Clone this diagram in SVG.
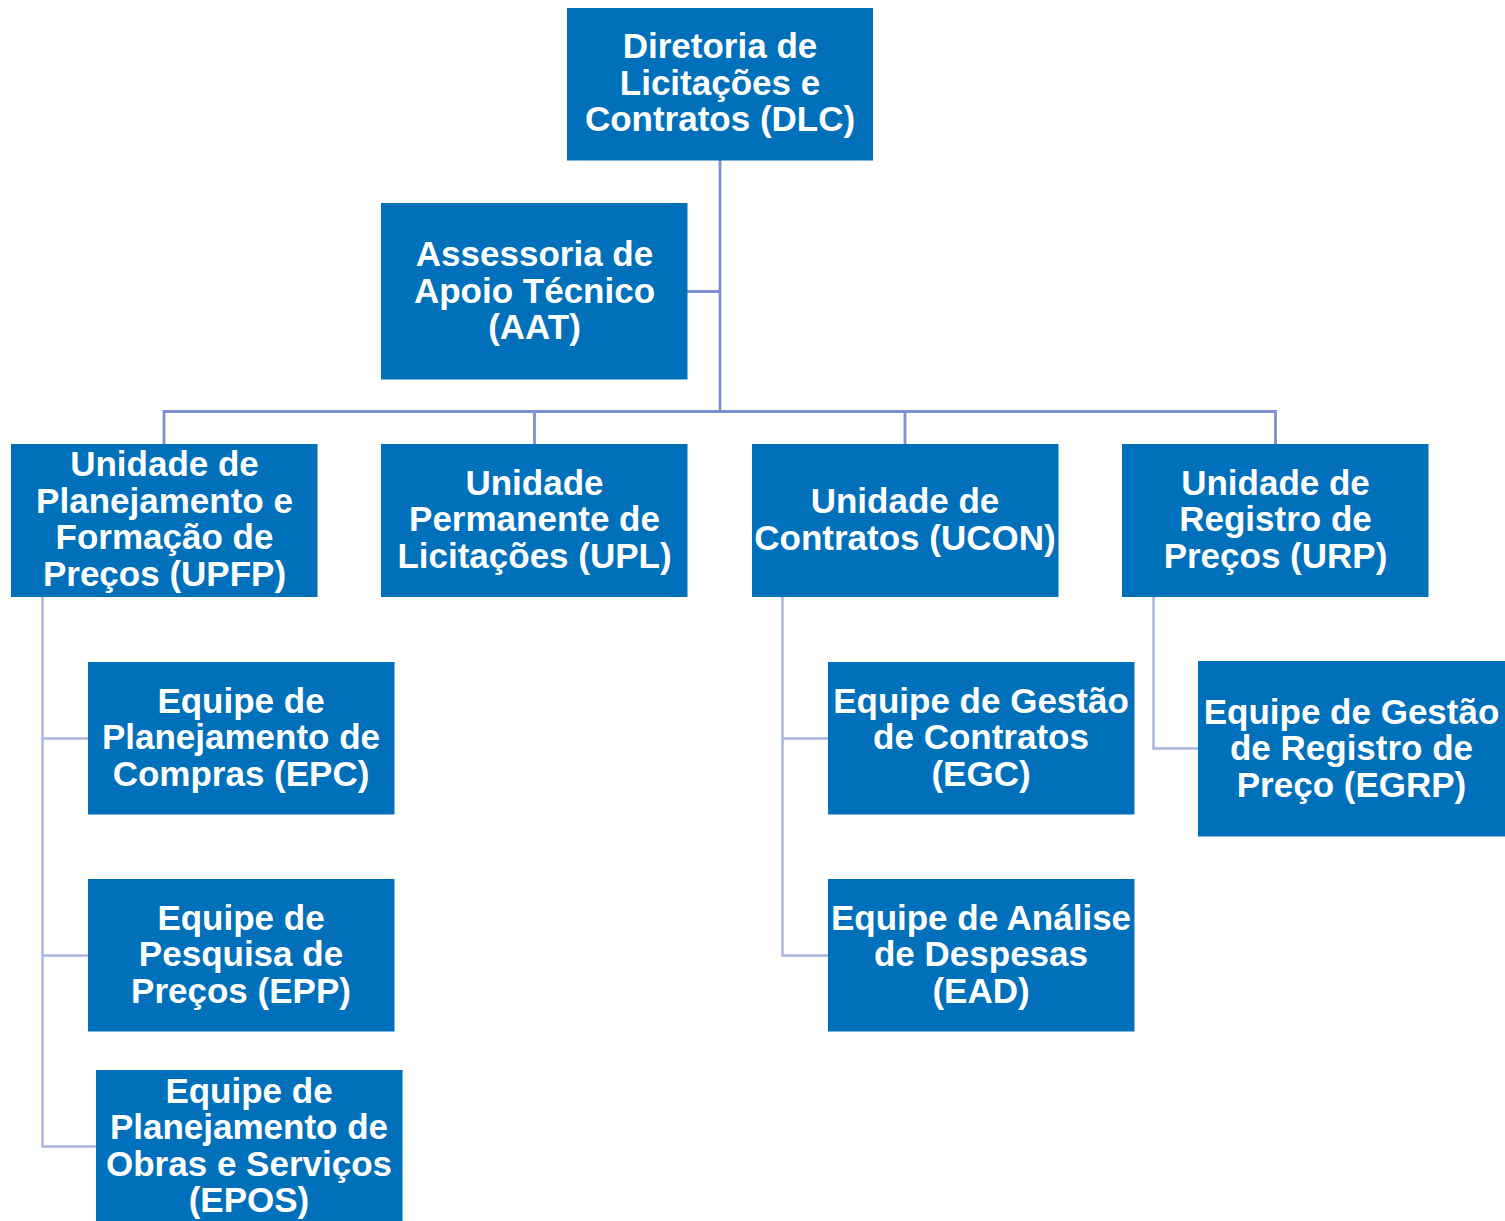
<svg xmlns="http://www.w3.org/2000/svg" width="1505" height="1221" viewBox="0 0 1505 1221">
<style>
.box{fill:#0070bb}
.t{font-family:"Liberation Sans",Arial,sans-serif;font-weight:bold;font-size:35px;fill:#ffffff;text-anchor:middle}
.c1{fill:none;stroke:#7d90d2;stroke-width:2.8}
.c2{fill:none;stroke:#a9b4de;stroke-width:2.4}
</style>
<rect width="1505" height="1221" fill="#ffffff"/>
<g id="connectors">
<path class="c1" d="M720 160V411.5M687 291.5H720M164 444V411.5H1275.5V444M534.5 411.5V444M905 411.5V444"/>
<path class="c2" d="M42.5 597V1146.5H96M42.5 738.5H88M42.5 955.5H88"/>
<path class="c2" d="M782.5 597V955.5H828M782.5 738.5H828"/>
<path class="c2" d="M1153.5 597V748.5H1198"/>
</g>
<g id="dlc"><rect class="box" x="567" y="8" width="306" height="152.5"/>
<text class="t"><tspan x="720" y="58">Diretoria de</tspan><tspan x="720" y="94.5">Licitações e</tspan><tspan x="720" y="131">Contratos (DLC)</tspan></text></g>
<g id="aat"><rect class="box" x="381" y="203" width="306.5" height="176.5"/>
<text class="t"><tspan x="534.5" y="266">Assessoria de</tspan><tspan x="534.5" y="302.5">Apoio Técnico</tspan><tspan x="534.5" y="339">(AAT)</tspan></text></g>
<g id="upfp"><rect class="box" x="11" y="444" width="306.5" height="153"/>
<text class="t"><tspan x="164.5" y="476">Unidade de</tspan><tspan x="164.5" y="512.5">Planejamento e</tspan><tspan x="164.5" y="549">Formação de</tspan><tspan x="164.5" y="585.5">Preços (UPFP)</tspan></text></g>
<g id="upl"><rect class="box" x="381" y="444" width="306.5" height="153"/>
<text class="t"><tspan x="534.5" y="494.5">Unidade</tspan><tspan x="534.5" y="531">Permanente de</tspan><tspan x="534.5" y="567.5">Licitações (UPL)</tspan></text></g>
<g id="ucon"><rect class="box" x="752" y="444" width="306.5" height="153"/>
<text class="t"><tspan x="905" y="513">Unidade de</tspan><tspan x="905" y="549.5">Contratos (UCON)</tspan></text></g>
<g id="urp"><rect class="box" x="1122" y="444" width="306.5" height="153"/>
<text class="t"><tspan x="1275.5" y="494.5">Unidade de</tspan><tspan x="1275.5" y="531">Registro de</tspan><tspan x="1275.5" y="567.5">Preços (URP)</tspan></text></g>
<g id="epc"><rect class="box" x="88" y="662" width="306.5" height="152.5"/>
<text class="t"><tspan x="241" y="712.5">Equipe de</tspan><tspan x="241" y="749">Planejamento de</tspan><tspan x="241" y="785.5">Compras (EPC)</tspan></text></g>
<g id="epp"><rect class="box" x="88" y="879" width="306.5" height="152.5"/>
<text class="t"><tspan x="241" y="929.5">Equipe de</tspan><tspan x="241" y="966">Pesquisa de</tspan><tspan x="241" y="1002.5">Preços (EPP)</tspan></text></g>
<g id="epos"><rect class="box" x="96" y="1070" width="306.5" height="151"/>
<text class="t"><tspan x="249" y="1102.5">Equipe de</tspan><tspan x="249" y="1139">Planejamento de</tspan><tspan x="249" y="1175.5">Obras e Serviços</tspan><tspan x="249" y="1212">(EPOS)</tspan></text></g>
<g id="egc"><rect class="box" x="828" y="662" width="306.5" height="152.5"/>
<text class="t"><tspan x="981" y="712.5">Equipe de Gestão</tspan><tspan x="981" y="749">de Contratos</tspan><tspan x="981" y="785.5">(EGC)</tspan></text></g>
<g id="ead"><rect class="box" x="828" y="879" width="306.5" height="152.5"/>
<text class="t"><tspan x="981" y="929.5">Equipe de Análise</tspan><tspan x="981" y="966">de Despesas</tspan><tspan x="981" y="1002.5">(EAD)</tspan></text></g>
<g id="egrp"><rect class="box" x="1198" y="661" width="307" height="175.5"/>
<text class="t"><tspan x="1351.5" y="723.5">Equipe de Gestão</tspan><tspan x="1351.5" y="760">de Registro de</tspan><tspan x="1351.5" y="796.5">Preço (EGRP)</tspan></text></g>
</svg>
